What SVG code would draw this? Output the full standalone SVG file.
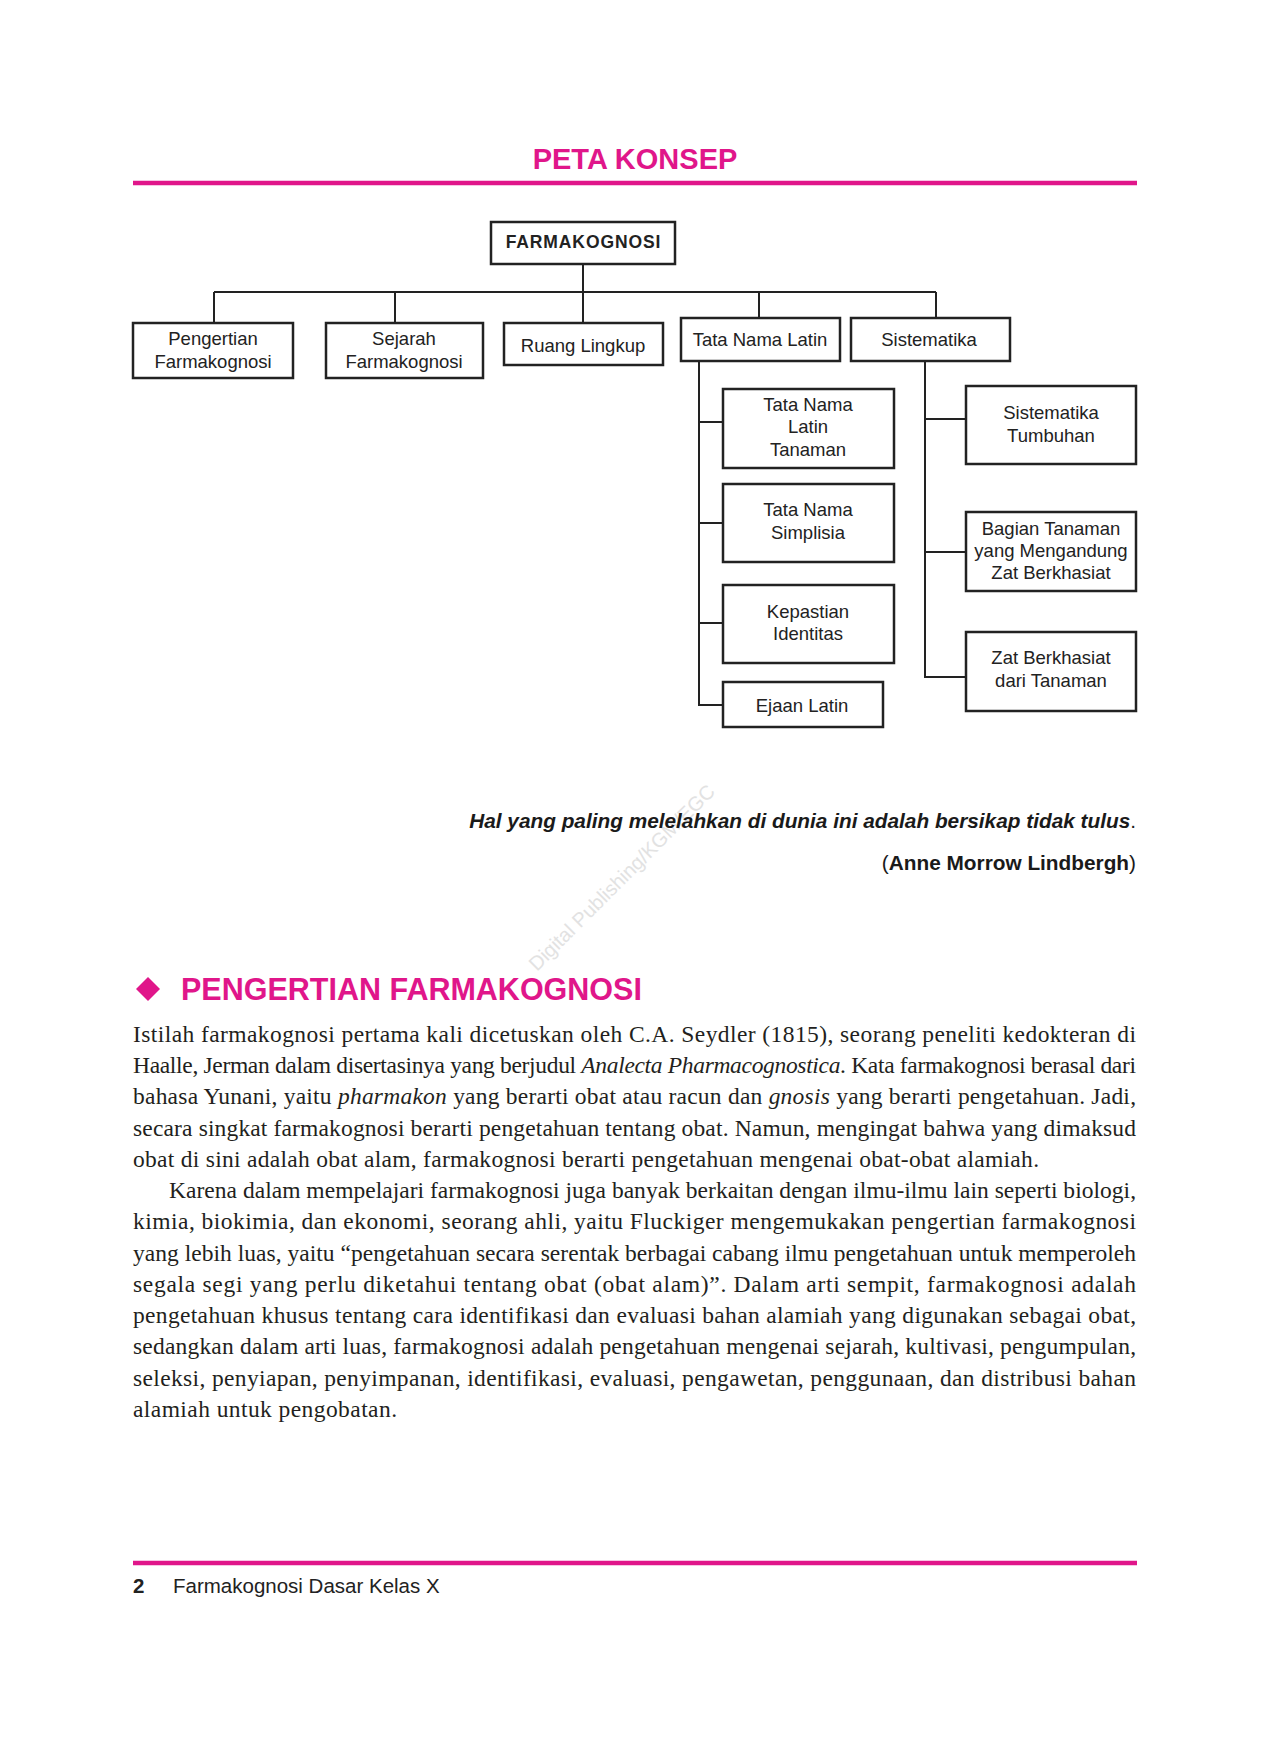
<svg xmlns="http://www.w3.org/2000/svg" width="1270" height="1742" viewBox="0 0 1270 1742">
<defs>
<style>
.bg{fill:#ffffff}
.rule{stroke:#E0168A;stroke-width:4.3;fill:none}
.mag{fill:#E0168A;font-family:"Liberation Sans",Arial,sans-serif;font-weight:bold}
.box{fill:#ffffff;stroke:#222222;stroke-width:2.5}
.lbl{font-family:"Liberation Sans",Arial,sans-serif;font-size:18.5px;fill:#222222;text-anchor:middle}
.root{font-family:"Liberation Sans",Arial,sans-serif;font-size:17.5px;font-weight:bold;letter-spacing:0.9px;fill:#222222;text-anchor:middle}
.con{stroke:#222222;stroke-width:2;fill:none}
.quote{font-family:"Liberation Sans",Arial,sans-serif;font-size:20.8px;fill:#1a1a1a;text-anchor:end}
.body{font-family:"Liberation Serif","Times New Roman",serif;font-size:23.5px;fill:#231f20}
.it{font-style:italic}
.wm{font-family:"Liberation Sans",Arial,sans-serif;font-size:20px;fill:#e2e2e2}
.foot{font-family:"Liberation Sans",Arial,sans-serif;font-size:20.5px;fill:#222222}
</style>
</defs>
<rect class="bg" x="0" y="0" width="1270" height="1742"/>

<text class="mag" x="635" y="169" font-size="29" text-anchor="middle">PETA KONSEP</text>
<line class="rule" x1="133" y1="183" x2="1137" y2="183"/>

<g id="connectors">
  <path class="con" d="M583 264 V292 M214 292 H936 M214 292 V323 M395 292 V323 M583 292 V323 M759 292 V318 M936 292 V318"/>
  <path class="con" d="M699 361 V705 H723 M699 422 H723 M699 523 H723 M699 623 H723"/>
  <path class="con" d="M925 361 V677 H966 M925 419 H966 M925 552 H966"/>
</g>

<g id="n-farmakognosi">
  <rect class="box" x="491" y="222" width="184" height="42"/>
  <text class="root" x="583.5" y="248">FARMAKOGNOSI</text>
</g>
<g id="n-pengertian">
  <rect class="box" x="133" y="323" width="160" height="55"/>
  <text class="lbl" x="213" y="345">Pengertian</text>
  <text class="lbl" x="213" y="368">Farmakognosi</text>
</g>
<g id="n-sejarah">
  <rect class="box" x="326" y="323" width="157" height="55"/>
  <text class="lbl" x="404" y="345">Sejarah</text>
  <text class="lbl" x="404" y="368">Farmakognosi</text>
</g>
<g id="n-ruang">
  <rect class="box" x="504" y="323" width="159" height="42"/>
  <text class="lbl" x="583" y="352">Ruang Lingkup</text>
</g>
<g id="n-tatanama">
  <rect class="box" x="681" y="318" width="159" height="43"/>
  <text class="lbl" x="760" y="346">Tata Nama Latin</text>
</g>
<g id="n-sistematika">
  <rect class="box" x="851" y="318" width="159" height="43"/>
  <text class="lbl" x="929" y="346">Sistematika</text>
</g>

<g id="n-tnlt">
  <rect class="box" x="723" y="389" width="171" height="79"/>
  <text class="lbl" x="808" y="411">Tata Nama</text>
  <text class="lbl" x="808" y="433">Latin</text>
  <text class="lbl" x="808" y="456">Tanaman</text>
</g>
<g id="n-tns">
  <rect class="box" x="723" y="484" width="171" height="78"/>
  <text class="lbl" x="808" y="516">Tata Nama</text>
  <text class="lbl" x="808" y="539">Simplisia</text>
</g>
<g id="n-ki">
  <rect class="box" x="723" y="585" width="171" height="78"/>
  <text class="lbl" x="808" y="618">Kepastian</text>
  <text class="lbl" x="808" y="640">Identitas</text>
</g>
<g id="n-ejaan">
  <rect class="box" x="723" y="682" width="160" height="45"/>
  <text class="lbl" x="802" y="712">Ejaan Latin</text>
</g>

<g id="n-st">
  <rect class="box" x="966" y="386" width="170" height="78"/>
  <text class="lbl" x="1051" y="419">Sistematika</text>
  <text class="lbl" x="1051" y="442">Tumbuhan</text>
</g>
<g id="n-btm">
  <rect class="box" x="966" y="512" width="170" height="79"/>
  <text class="lbl" x="1051" y="535">Bagian Tanaman</text>
  <text class="lbl" x="1051" y="557">yang Mengandung</text>
  <text class="lbl" x="1051" y="579">Zat Berkhasiat</text>
</g>
<g id="n-zbt">
  <rect class="box" x="966" y="632" width="170" height="79"/>
  <text class="lbl" x="1051" y="664">Zat Berkhasiat</text>
  <text class="lbl" x="1051" y="687">dari Tanaman</text>
</g>

<text class="wm" x="537" y="972" transform="rotate(-45 537 972)">Digital Publishing/KGM/EGC</text>

<text class="quote" x="1136" y="828"><tspan font-weight="bold" font-style="italic">Hal yang paling melelahkan di dunia ini adalah bersikap tidak tulus</tspan>.</text>
<text class="quote" x="1136" y="870">(<tspan font-weight="bold">Anne Morrow Lindbergh</tspan>)</text>

<polygon points="148,977 160,989 148,1001 136,989" fill="#E0168A"/>
<text class="mag" x="181" y="1000" font-size="30.5">PENGERTIAN FARMAKOGNOSI</text>

<g class="body">
<text x="133" y="1042" textLength="1003" lengthAdjust="spacing">Istilah farmakognosi pertama kali dicetuskan oleh C.A. Seydler (1815), seorang peneliti kedokteran di</text>
<text x="133" y="1073" textLength="1003" lengthAdjust="spacing">Haalle, Jerman dalam disertasinya yang berjudul <tspan class="it">Analecta Pharmacognostica</tspan>. Kata farmakognosi berasal dari</text>
<text x="133" y="1104" textLength="1003" lengthAdjust="spacing">bahasa Yunani, yaitu <tspan class="it">pharmakon</tspan> yang berarti obat atau racun dan <tspan class="it">gnosis</tspan> yang berarti pengetahuan. Jadi,</text>
<text x="133" y="1136" textLength="1003" lengthAdjust="spacing">secara singkat farmakognosi berarti pengetahuan tentang obat. Namun, mengingat bahwa yang dimaksud</text>
<text x="133" y="1167" textLength="906" lengthAdjust="spacing">obat di sini adalah obat alam, farmakognosi berarti pengetahuan mengenai obat-obat alamiah.</text>
<text x="169" y="1198" textLength="967" lengthAdjust="spacing">Karena dalam mempelajari farmakognosi juga banyak berkaitan dengan ilmu-ilmu lain seperti biologi,</text>
<text x="133" y="1229" textLength="1003" lengthAdjust="spacing">kimia, biokimia, dan ekonomi, seorang ahli, yaitu Fluckiger mengemukakan pengertian farmakognosi</text>
<text x="133" y="1261" textLength="1003" lengthAdjust="spacing">yang lebih luas, yaitu “pengetahuan secara serentak berbagai cabang ilmu pengetahuan untuk memperoleh</text>
<text x="133" y="1292" textLength="1003" lengthAdjust="spacing">segala segi yang perlu diketahui tentang obat (obat alam)”. Dalam arti sempit, farmakognosi adalah</text>
<text x="133" y="1323" textLength="1003" lengthAdjust="spacing">pengetahuan khusus tentang cara identifikasi dan evaluasi bahan alamiah yang digunakan sebagai obat,</text>
<text x="133" y="1354" textLength="1003" lengthAdjust="spacing">sedangkan dalam arti luas, farmakognosi adalah pengetahuan mengenai sejarah, kultivasi, pengumpulan,</text>
<text x="133" y="1386" textLength="1003" lengthAdjust="spacing">seleksi, penyiapan, penyimpanan, identifikasi, evaluasi, pengawetan, penggunaan, dan distribusi bahan</text>
<text x="133" y="1417" textLength="264" lengthAdjust="spacing">alamiah untuk pengobatan.</text>
</g>

<line class="rule" x1="133" y1="1563" x2="1137" y2="1563"/>
<text class="foot" x="133" y="1593" font-weight="bold" font-size="22">2</text>
<text class="foot" x="173" y="1593">Farmakognosi Dasar Kelas X</text>
</svg>
